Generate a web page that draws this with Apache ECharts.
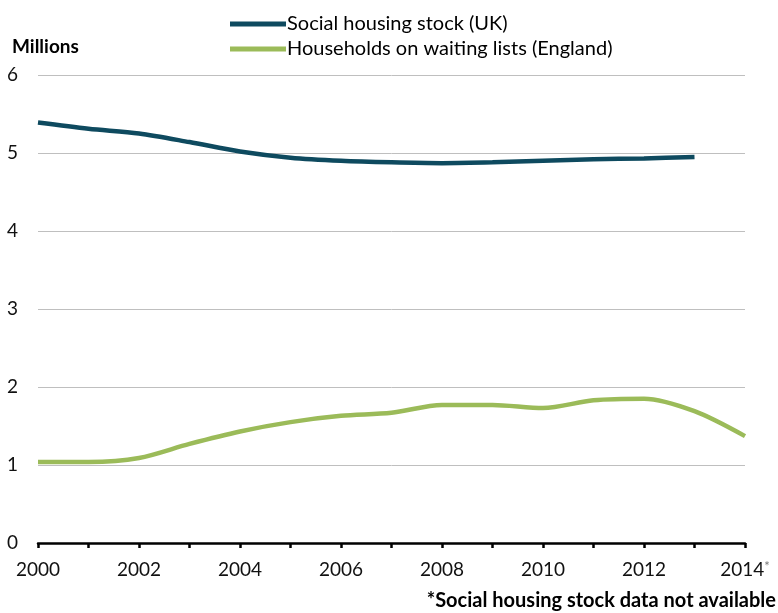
<!DOCTYPE html>
<html><head><meta charset="utf-8">
<script src="https://cdn.jsdelivr.net/npm/echarts@6/dist/echarts.min.js"></script>
<style>html,body{margin:0;padding:0;background:#fff}#c{width:778px;height:613px}</style>
</head><body><div id="c"></div>
<script>
const years = ['2000','2001','2002','2003','2004','2005','2006','2007','2008','2009','2010','2011','2012','2013','2014'];
const socialHousingStock = [5.39,5.31,5.25,5.14,5.02,4.94,4.90,4.88,4.87,4.88,4.90,4.92,4.93,4.95,null];
const waitingLists = [1.04,1.04,1.09,1.27,1.43,1.55,1.63,1.67,1.77,1.77,1.73,1.83,1.85,1.69,1.37];
const seriesNames = ['Social housing stock (UK)','Households on waiting lists (England)'];
const F = 'Lato,"Noto Sans",sans-serif';
const chart = echarts.init(document.getElementById('c'));
chart.setOption({
  animation:false,
  textStyle:{fontFamily:F},
  grid:{left:38,right:33,top:75,bottom:70},
  legend:{
    top:9,left:225,orient:'vertical',itemGap:5,itemWidth:56,itemHeight:5,
    icon:'rect',
    textStyle:{fontSize:20,color:'#000',fontFamily:F,padding:[0,0,0,-4]},
    data:seriesNames
  },
  graphic:[
    {type:'text',left:12,top:37,style:{text:'Millions',font:'bold 19px '+F,fill:'#000'}},
    {type:'text',right:2,top:591,style:{text:'*Social housing stock data not available',font:'bold 20px '+F,fill:'#000'}}
  ],
  xAxis:{
    type:'category',data:years,boundaryGap:false,
    axisLine:{lineStyle:{color:'#000',width:2.5}},
    axisTick:{show:true,interval:0,length:5,lineStyle:{color:'#000',width:2.5}},
    axisLabel:{interval:1,margin:17,fontSize:19,color:'#111',fontFamily:F,
      formatter:function(v){return v==='2014'?'{a|2014}{s|*}':v;},
      rich:{a:{fontSize:19,fontFamily:F,color:'#111'},s:{fontSize:13,fontFamily:F,color:'#777',verticalAlign:'top',padding:[0,0,6,0]}}
    }
  },
  yAxis:{
    type:'value',min:0,max:6,interval:1,
    axisLine:{show:false},axisTick:{show:false},
    axisLabel:{fontSize:19,color:'#111',fontFamily:F,margin:20},
    splitLine:{lineStyle:{color:'#bfbfbf',width:1}}
  },
  series:[
    {name:seriesNames[0],type:'line',data:socialHousingStock,smooth:0.3,showSymbol:false,
     lineStyle:{width:4.5,color:'#0e4a5f'},itemStyle:{color:'#0e4a5f'}},
    {name:seriesNames[1],type:'line',data:waitingLists,smooth:0.3,showSymbol:false,
     lineStyle:{width:4.5,color:'#9bbb59'},itemStyle:{color:'#9bbb59'}}
  ]
});
</script></body></html>
